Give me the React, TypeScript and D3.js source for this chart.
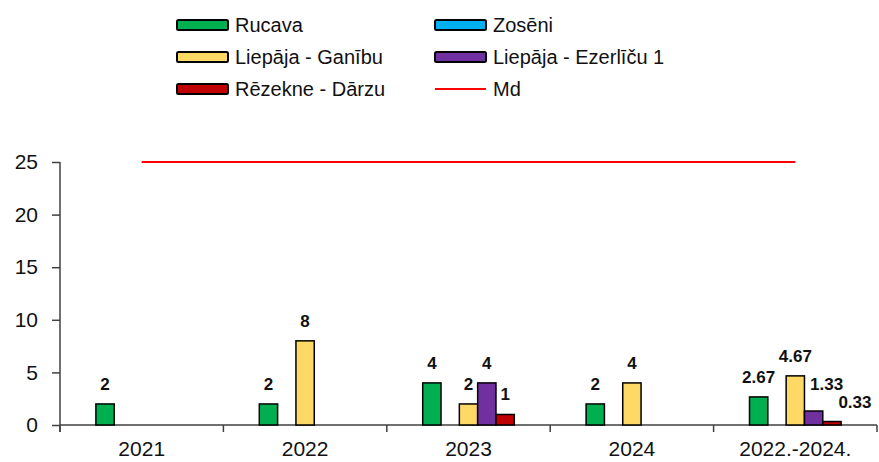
import * as d3 from 'd3';
import { useEffect, useRef } from 'react';

const categories = ['2021', '2022', '2023', '2024', '2022.-2024.'];
const seriesNames = ['Rucava', 'Zosēni', 'Liepāja - Ganību', 'Liepāja - Ezerlīču 1', 'Rēzekne - Dārzu'];
const rucava = [2, 2, 4, 2, 2.67];
const zoseni: (number | null)[] = [null, null, null, null, null];
const liepajaGanibu = [null, 8, 2, 4, 4.67];
const liepajaEzerlicu = [null, null, 4, null, 1.33];
const rezekneDarzu = [null, null, 1, null, 0.33];
const md = [25, 25, 25, 25, 25];
const yTicks = [0, 5, 10, 15, 20, 25];

const seriesValues = [rucava, zoseni, liepajaGanibu, liepajaEzerlicu, rezekneDarzu];
const colors = ['#00b050', '#00b0f0', '#ffd966', '#7030a0', '#c00000'];

// excel moved a couple of labels aside to avoid overlaps
const labelNudge: Record<string, [number, number]> = {
  '4-3': [13, -7],
  '4-4': [23, 0],
};

const W = 879;
const H = 462;
const font = '"Liberation Sans", Arial, sans-serif';

export default function App() {
  const svgRef = useRef<SVGSVGElement | null>(null);

  useEffect(() => {
    document.body.style.margin = '0';
    const svg = d3.select(svgRef.current);
    svg.selectAll('*').remove();

    const left = 60;
    const right = 877;
    const top = 162;
    const bottom = 425;

    const x = d3.scaleBand<string>().domain(categories).range([left, right]).padding(0);
    const inner = d3.scaleBand<number>()
      .domain(d3.range(seriesNames.length))
      .range([0, x.bandwidth()])
      .paddingInner(0)
      .paddingOuter(1.96);
    const y = d3.scaleLinear().domain([0, 25]).range([bottom, top]);

    const axisColor = '#404040';

    // y axis
    const yAxis = svg.append('g').attr('transform', `translate(${left},0)`)
      .call(d3.axisLeft(y).tickValues(yTicks).tickSize(8).tickPadding(14).tickSizeOuter(0));
    yAxis.select('.domain').attr('stroke', axisColor).attr('stroke-width', 1.5)
      .attr('d', `M0,${top}V${bottom + 7}`);
    yAxis.selectAll('.tick line').attr('stroke', axisColor).attr('stroke-width', 1.5);
    yAxis.selectAll('.tick text').attr('font-family', font).attr('font-size', 21).attr('fill', '#111');

    // x axis
    const xAxis = svg.append('g').attr('transform', `translate(0,${bottom})`)
      .call(d3.axisBottom(x).tickSize(0).tickPadding(16).tickSizeOuter(0));
    xAxis.select('.domain').attr('stroke', axisColor).attr('stroke-width', 1.5)
      .attr('d', `M${left},0H${right}`);
    xAxis.selectAll('.tick text').attr('font-family', font).attr('font-size', 21).attr('fill', '#111');

    const edges = [...categories.map((c) => x(c) as number), right];
    xAxis.selectAll('.edge').data(edges).enter().append('line')
      .attr('x1', (d) => d).attr('x2', (d) => d)
      .attr('y1', 0).attr('y2', 7)
      .attr('stroke', axisColor).attr('stroke-width', 1.5);

    // bars
    seriesValues.forEach((vals, si) => {
      const pts = vals.map((v, ci) => ({ v, ci })).filter((d) => d.v !== null) as { v: number; ci: number }[];
      svg.append('g').selectAll('rect').data(pts).enter().append('rect')
        .attr('x', (d) => (x(categories[d.ci]) as number) + (inner(si) as number))
        .attr('width', inner.bandwidth())
        .attr('y', (d) => y(d.v))
        .attr('height', (d) => y(0) - y(d.v))
        .attr('fill', colors[si])
        .attr('stroke', '#000')
        .attr('stroke-width', 1.5);

      svg.append('g').selectAll('text').data(pts).enter().append('text')
        .attr('x', (d) => (x(categories[d.ci]) as number) + (inner(si) as number) + inner.bandwidth() / 2
          + (labelNudge[`${d.ci}-${si}`]?.[0] ?? 0))
        .attr('y', (d) => y(d.v) - 14 + (labelNudge[`${d.ci}-${si}`]?.[1] ?? 0))
        .attr('text-anchor', 'middle')
        .attr('font-family', font)
        .attr('font-size', 17)
        .attr('font-weight', 'bold')
        .attr('fill', '#111')
        .text((d) => String(d.v));
    });

    // Md line
    const line = d3.line<number>()
      .x((_, i) => (x(categories[i]) as number) + x.bandwidth() / 2)
      .y((d) => y(d));
    svg.append('path').datum(md).attr('d', line).attr('fill', 'none')
      .attr('stroke', '#ff0000').attr('stroke-width', 2);

    // legend
    const legendItems = [
      { name: seriesNames[0], color: colors[0], col: 0, row: 0, type: 'rect' },
      { name: seriesNames[1], color: colors[1], col: 1, row: 0, type: 'rect' },
      { name: seriesNames[2], color: colors[2], col: 0, row: 1, type: 'rect' },
      { name: seriesNames[3], color: colors[3], col: 1, row: 1, type: 'rect' },
      { name: seriesNames[4], color: colors[4], col: 0, row: 2, type: 'rect' },
      { name: 'Md', color: '#ff0000', col: 1, row: 2, type: 'line' },
    ];
    const colX = [177, 435];
    const rowY = [25, 57, 89];
    const lg = svg.append('g');
    legendItems.forEach((it) => {
      const gx = colX[it.col];
      const gy = rowY[it.row];
      if (it.type === 'rect') {
        lg.append('rect').attr('x', gx).attr('y', gy - 5).attr('width', 51).attr('height', 10)
          .attr('rx', 1.5)
          .attr('fill', it.color).attr('stroke', '#000').attr('stroke-width', 2);
      } else {
        lg.append('line').attr('x1', gx).attr('x2', gx + 51).attr('y1', gy).attr('y2', gy)
          .attr('stroke', it.color).attr('stroke-width', 2);
      }
      lg.append('text').attr('x', gx + 58).attr('y', gy + 7)
        .attr('font-family', font).attr('font-size', 20).attr('fill', '#111')
        .text(it.name);
    });
  }, []);

  return <svg ref={svgRef} width={W} height={H} style={{ display: 'block', background: '#fff' }} />;
}
